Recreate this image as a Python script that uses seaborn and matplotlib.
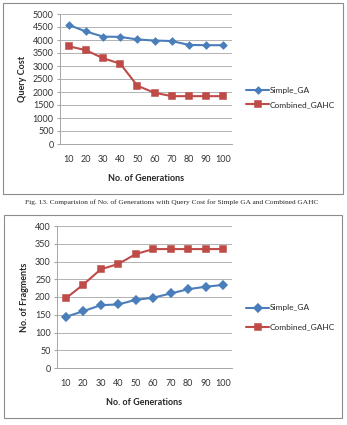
import matplotlib
matplotlib.use("Agg")
import matplotlib.pyplot as plt
import seaborn as sns
import pandas as pd
from matplotlib.patches import Rectangle

generations = ["10", "20", "30", "40", "50", "60", "70", "80", "90", "100"]
series_names = ["Simple_GA", "Combined_GAHC"]

# Fig. 13: query cost
cost_simple = [4580, 4330, 4130, 4120, 4020, 3980, 3960, 3810, 3800, 3800]
cost_combined = [3760, 3610, 3300, 3090, 2240, 1970, 1840, 1840, 1840, 1840]

# second chart: number of fragments
frag_simple = [144, 160, 177, 179, 192, 198, 210, 222, 229, 234]
frag_combined = [196, 235, 278, 293, 321, 335, 335, 335, 335, 335]

caption = ("Fig. 13. Comparision of No. of Generations with Query Cost "
           "for Simple GA and Combined GAHC")

colors = ["#4a7ebb", "#be4b48"]

sns.set_style("white")
plt.rcParams["font.family"] = ["Lato", "DejaVu Sans"]

W, H = 347, 425
fig = plt.figure(figsize=(W / 100, H / 100), dpi=100)


def make_df(a, b):
    return pd.DataFrame({
        "gen": generations * 2,
        "val": a + b,
        "series": [series_names[0]] * len(a) + [series_names[1]] * len(b),
    })


def shrink_diamonds(artists, size):
    for a in artists:
        if hasattr(a, "get_marker") and a.get_marker() == "D":
            a.set_markersize(size)


def draw(ax, df, ymax, step, ylabel, leg_y, spacing, sq, dm):
    sns.pointplot(
        data=df, x="gen", y="val", hue="series",
        order=generations, hue_order=series_names,
        palette=colors, markers=["D", "s"], linestyles=["-", "-"],
        errorbar=None, ax=ax, markersize=sq, linewidth=1.5,
    )
    shrink_diamonds(ax.lines, dm)
    ax.set_xlim(-0.5, len(generations) - 0.5)
    ax.set_ylim(0, ymax)
    ax.set_yticks(range(0, ymax + 1, step))
    ax.yaxis.grid(True, color="#a6a6a6", linewidth=0.6)
    ax.set_axisbelow(True)
    for s in ["top", "right"]:
        ax.spines[s].set_visible(False)
    for s in ["left", "bottom"]:
        ax.spines[s].set_color("#a6a6a6")
        ax.spines[s].set_linewidth(0.7)
    ax.tick_params(axis="y", length=2.5, color="#a6a6a6", labelsize=6.5,
                   pad=2, left=True, labelcolor="#333333")
    ax.tick_params(axis="x", length=0, labelsize=6.5, pad=8,
                   labelcolor="#333333")
    ax.set_xlabel("No. of Generations", fontsize=6.5, fontweight="bold",
                  labelpad=7)
    ax.set_ylabel(ylabel, fontsize=6.5, fontweight="bold", labelpad=4)
    handles, labels = ax.get_legend_handles_labels()
    shrink_diamonds(handles, dm)
    ax.legend(handles, labels, loc="center left",
              bbox_to_anchor=(0.698, leg_y), bbox_transform=fig.transFigure,
              frameon=False, fontsize=6, handlelength=2.7,
              handletextpad=0.15, labelspacing=spacing, borderpad=0)


ax1 = fig.add_axes([60 / W, 1 - 144 / H, 172 / W, 130 / H])
draw(ax1, make_df(cost_simple, cost_combined), 5000, 500, "Query Cost",
     1 - 97.5 / H, 0.9, 4.3, 3.3)

ax2 = fig.add_axes([57 / W, 1 - 368 / H, 175 / W, 142 / H])
draw(ax2, make_df(frag_simple, frag_combined), 400, 50, "No. of Fragments",
     1 - 317.5 / H, 1.45, 5.0, 3.6)

# chart frames
fig.patches.append(Rectangle((3 / W, 1 - 194 / H), 340 / W, 191 / H,
                             transform=fig.transFigure, fill=False,
                             edgecolor="#8c8c8c", linewidth=0.8))
fig.patches.append(Rectangle((4 / W, 1 - 418 / H), 338 / W, 203 / H,
                             transform=fig.transFigure, fill=False,
                             edgecolor="#8c8c8c", linewidth=0.8))

fig.text(172 / W, 1 - 202 / H, caption, ha="center", va="center",
         fontsize=5.35, family=["Liberation Serif", "DejaVu Serif"])

fig.savefig("out.png", dpi=100)
